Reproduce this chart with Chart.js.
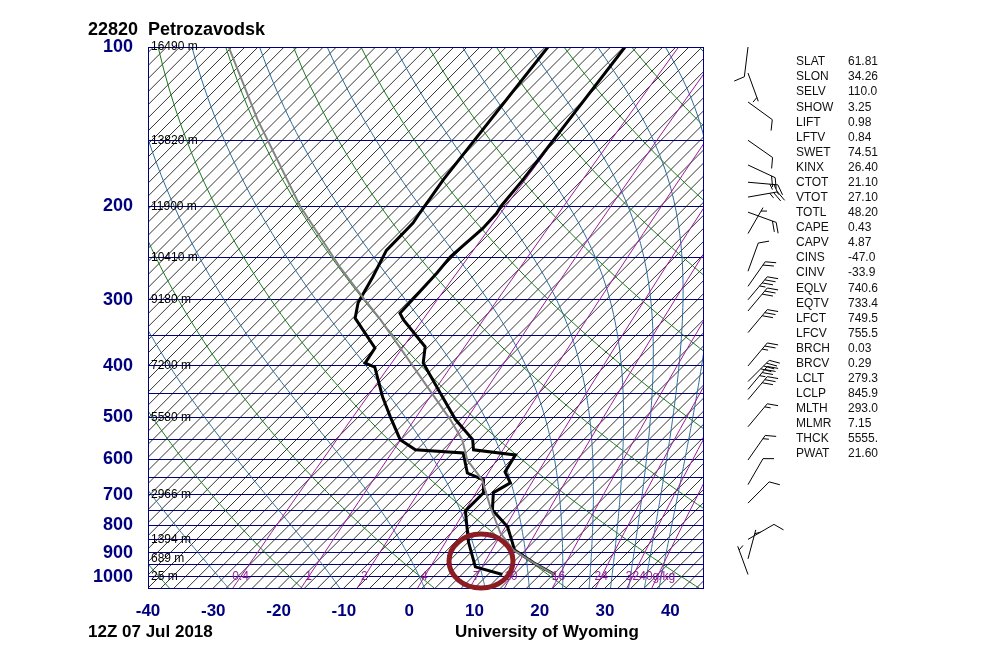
<!DOCTYPE html>
<html>
<head>
<meta charset="utf-8">
<script src="https://cdn.jsdelivr.net/npm/chart.js@4.4.0/dist/chart.umd.min.js"></script>
<style>
body { margin: 0; background: #fff; }
#c { display: block; }
</style>
</head>
<body>
<canvas id="c" width="985" height="657"></canvas>
<script>
// sounding: pressure (hPa) / temperature (C)
const presT  = [990, 941, 890, 859, 805, 748, 694, 665, 634, 589, 576, 551, 505, 450, 395, 368, 327, 318, 267, 249, 220, 206, 200, 178, 100];
const tempT  = [20.2, 15.2, 10.3, 8.7, 5.7, 0.8, -1.7, -0.6, -3.1, -4.1, -11.3, -13.0, -18.7, -25.1, -32.3, -34.5, -42.0, -43.5, -44.0, -44.4, -43.8, -44.0, -44.4, -45.1, -49.8];
const presTd = [990, 958, 859, 751, 694, 656, 637, 584, 576, 551, 499, 458, 402, 395, 370, 325, 304, 272, 242, 215, 206, 178, 100];
const dewpTd = [12.2, 6.9, 2.0, -3.2, -3.2, -5.2, -8.7, -12.4, -20.2, -24.1, -29.1, -33.3, -39.1, -41.2, -42.0, -49.6, -51.5, -53.2, -55.2, -55.3, -55.8, -57.3, -61.6];
const presPcl = [990, 941, 890, 826, 738, 656, 602, 551, 505, 327, 296, 261, 200, 137, 100];
const tempPcl = [20.1, 15.2, 10.1, 5.5, 0.0, -5.4, -10.7, -14.6, -19.5, -45.5, -51.8, -59.6, -75.1, -95.0, -110.5];

// winds: pressure, direction (deg), speed (kt)
const windP   = [100, 112, 127, 150, 167, 180, 192, 205, 225, 265, 283, 300, 315, 346, 400, 428, 443, 463, 521, 602, 670, 726, 850, 925, 990];
const windDir = [187, 160, 126, 125, 115, 95, 80, 110, 30, 20, 35, 40, 40, 40, 40, 45, 40, 40, 40, 35, 30, 45, 60, 15, 340];
const windSpd = [10, 5, 10, 10, 20, 25, 25, 20, 5, 10, 20, 35, 30, 30, 25, 40, 35, 30, 15, 15, 10, 10, 10, 5, 5];

const pTicks = [100, 150, 200, 250, 300, 350, 400, 450, 500, 550, 600, 650, 700, 750, 800, 850, 900, 950, 1000, 1050];
const tTicks = [-40, -30, -20, -10, 0, 10, 20, 30, 40];

const hgtP   = [100, 150, 200, 250, 300, 400, 500, 700, 850, 925, 1000];
const hgtLbl = ['16490 m', '13820 m', '11900 m', '10410 m', '9180 m', '7200 m', '5580 m', '2966 m', '1394 m', '689 m', '25 m'];

const mixR    = [0.4, 1, 2, 4, 7, 10, 16, 24, 32, 40];
const dryTh   = [-40, -20, 0, 20, 40, 60, 80, 100, 120, 140, 160, 180];
const moistTh = [-50, -30, -10, 10, 30, 50, 70, 90, 110, 130, 150, 170];

const idxName = ['SLAT','SLON','SELV','SHOW','LIFT','LFTV','SWET','KINX','CTOT','VTOT','TOTL','CAPE','CAPV','CINS','CINV','EQLV','EQTV','LFCT','LFCV','BRCH','BRCV','LCLT','LCLP','MLTH','MLMR','THCK','PWAT'];
const idxVal  = ['61.81','34.26','110.0','3.25','0.98','0.84','74.51','26.40','21.10','27.10','48.20','0.43','4.87','-47.0','-33.9','740.6','733.4','749.5','755.5','0.03','0.29','279.3','845.9','293.0','7.15','5555.','21.60'];

const T_MIN = -40, T_MAX = 45, P_TOP = 100, P_BOT = 1050;
const PLOT_W = 555, PLOT_H = 541;
const K = (T_MAX - T_MIN) / PLOT_W * PLOT_H / Math.log10(P_BOT / P_TOP);
const FONT = "'Liberation Sans', Arial, sans-serif";
const NAVY = '#00007f';

function sk(t, p) { return t + K * Math.log10(P_BOT / p); }
function pts(ps, ts) { return ps.map((p, i) => ({ x: sk(ts[i], p), y: p })); }

function lapse(T, p) {
  const tc = T - 273.15;
  const es = 6.112 * Math.exp(17.67 * tc / (tc + 243.5));
  const rs = 0.622 * es / (p - es);
  return (287.04 * T + 2.501e6 * rs) / (p * (1005.7 + 2.501e6 * 2.501e6 * rs * 0.622 / (287.04 * T * T)));
}

const skewGrid = {
  id: 'skewGrid',
  beforeDatasetsDraw(chart) {
    const { ctx, chartArea: a, scales: { x, y } } = chart;
    const line = (list, color, w) => {
      ctx.strokeStyle = color; ctx.lineWidth = w;
      ctx.beginPath();
      list.forEach((q, i) => {
        const px = x.getPixelForValue(sk(q[0], q[1])), py = y.getPixelForValue(q[1]);
        i ? ctx.lineTo(px, py) : ctx.moveTo(px, py);
      });
      ctx.stroke();
    };
    ctx.save();
    ctx.beginPath(); ctx.rect(a.left, a.top, a.right - a.left, a.bottom - a.top); ctx.clip();
    // isotherms
    for (let t = -140; t <= 44; t += 2) line([[t, P_BOT], [t, P_TOP]], '#000', 0.8);
    // dry adiabats
    dryTh.forEach(th => {
      const l = [];
      for (let p = P_BOT; p >= P_TOP; p -= 10) l.push([(th + 273.15) * Math.pow(p / 1000, 0.2857) - 273.15, p]);
      line(l, '#1a7a1a', 1);
    });
    // moist adiabats
    moistTh.forEach(th => {
      let p = P_TOP, T = (th + 273.15) * Math.pow(P_TOP / 1000, 0.2857);
      const l = [[T - 273.15, p]];
      while (p < P_BOT) {
        const dp = 5;
        const k1 = lapse(T, p);
        const k2 = lapse(T + k1 * dp / 2, p + dp / 2);
        T += k2 * dp; p += dp;
        l.push([T - 273.15, p]);
      }
      line(l, '#2b6a9a', 1);
    });
    // mixing ratio
    mixR.forEach(w => {
      const l = [];
      for (let p = P_BOT; p >= P_TOP; p -= 25) {
        const g = Math.log(w * p / (622 + w) / 6.112);
        l.push([243.5 * g / (17.67 - g), p]);
      }
      line(l, '#9a1a9a', 1);
    });
    ctx.restore();
  },
  afterDatasetsDraw(chart) {
    const { ctx, chartArea: a, scales: { x, y } } = chart;
    ctx.save();
    ctx.strokeStyle = NAVY; ctx.lineWidth = 1;
    ctx.strokeRect(a.left + 0.5, a.top + 0.5, a.right - a.left, a.bottom - a.top);
    // heights
    ctx.fillStyle = '#000'; ctx.font = '12px ' + FONT;
    ctx.textAlign = 'left'; ctx.textBaseline = 'middle';
    hgtP.forEach((p, i) => ctx.fillText(hgtLbl[i], a.left + 3, y.getPixelForValue(p)));
    // mixing ratio labels
    ctx.fillStyle = '#9a1a9a'; ctx.textAlign = 'center';
    mixR.forEach((w, i) => {
      const g = Math.log(w * 1000 / (622 + w) / 6.112);
      const px = x.getPixelForValue(sk(243.5 * g / (17.67 - g), 1000));
      if (i === mixR.length - 1) { ctx.textAlign = 'left'; ctx.fillText(w + 'g/kg', px - 18, y.getPixelForValue(1000)); }
      else ctx.fillText(String(w), px, y.getPixelForValue(1000));
    });
    // circled area
    ctx.strokeStyle = '#8c1c24'; ctx.lineWidth = 5;
    ctx.beginPath();
    ctx.ellipse(x.getPixelForValue(11.0), y.getPixelForValue(934), 32, 27, 0, 0, Math.PI * 2);
    ctx.stroke();
    ctx.restore();
  },
  afterDraw(chart) {
    const { ctx, scales: { y } } = chart;
    ctx.save();
    // titles
    ctx.fillStyle = '#000'; ctx.textBaseline = 'middle'; ctx.textAlign = 'left';
    ctx.font = 'bold 18px ' + FONT;
    ctx.fillText('22820  Petrozavodsk', 88, 30);
    ctx.font = 'bold 17px ' + FONT;
    ctx.fillText('12Z 07 Jul 2018', 88, 632);
    ctx.fillText('University of Wyoming', 455, 632);
    // indices
    ctx.font = '12px ' + FONT; ctx.fillStyle = '#111';
    idxName.forEach((n, i) => {
      ctx.fillText(n, 796, 62 + i * 15.08);
      ctx.fillText(idxVal[i], 848, 62 + i * 15.08);
    });
    // wind barbs, staff points to where the wind comes from
    ctx.strokeStyle = '#000'; ctx.lineWidth = 1; ctx.fillStyle = '#000';
    windP.forEach((p, i) => {
      const bx = 748, by = y.getPixelForValue(p);
      const r = windDir[i] * Math.PI / 180;
      const ux = Math.sin(r), uy = -Math.cos(r);
      const rx = -uy, ry = ux;
      const L = 30;
      const tx = bx + ux * L, ty = by + uy * L;
      ctx.beginPath(); ctx.moveTo(bx, by); ctx.lineTo(tx, ty); ctx.stroke();
      let s = Math.round(windSpd[i] / 5) * 5, d = 0;
      while (s >= 50) {
        const sx = tx - ux * d, sy = ty - uy * d;
        ctx.beginPath(); ctx.moveTo(sx, sy);
        ctx.lineTo(sx + rx * 10, sy + ry * 10);
        ctx.lineTo(sx - ux * 5, sy - uy * 5); ctx.fill();
        s -= 50; d += 7;
      }
      while (s >= 10) {
        const sx = tx - ux * d, sy = ty - uy * d;
        ctx.beginPath(); ctx.moveTo(sx, sy);
        ctx.lineTo(sx + (rx * 0.866 + ux * 0.5) * 11, sy + (ry * 0.866 + uy * 0.5) * 11); ctx.stroke();
        s -= 10; d += 4;
      }
      if (s >= 5) {
        if (d === 0) d = 4;
        const sx = tx - ux * d, sy = ty - uy * d;
        ctx.beginPath(); ctx.moveTo(sx, sy);
        ctx.lineTo(sx + (rx * 0.866 + ux * 0.5) * 6, sy + (ry * 0.866 + uy * 0.5) * 6); ctx.stroke();
      }
    });
    ctx.restore();
  }
};

Chart.defaults.font.family = FONT;

new Chart(document.getElementById('c'), {
  type: 'scatter',
  data: {
    datasets: [
      { label: 'parcel', data: pts(presPcl, tempPcl), borderColor: '#848484', borderWidth: 2 },
      { label: 'dewpoint', data: pts(presTd, dewpTd), borderColor: '#000', borderWidth: 3 },
      { label: 'temperature', data: pts(presT, tempT), borderColor: '#000', borderWidth: 3 }
    ].map(d => Object.assign(d, { showLine: true, pointRadius: 0, fill: false, tension: 0 }))
  },
  options: {
    responsive: false,
    animation: false,
    devicePixelRatio: 1,
    layout: { padding: { left: 0, top: 47, right: 282, bottom: 0 } },
    plugins: { legend: { display: false }, tooltip: { enabled: false } },
    scales: {
      x: {
        type: 'linear', min: T_MIN, max: T_MAX,
        afterBuildTicks: s => { s.ticks = tTicks.map(v => ({ value: v })); },
        afterFit: s => { s.height = 657 - 47 - PLOT_H; },
        grid: { display: false },
        border: { display: true, color: NAVY },
        ticks: { color: NAVY, padding: 5, font: { size: 17, weight: 'bold' }, autoSkip: false, maxRotation: 0 }
      },
      y: {
        type: 'logarithmic', reverse: true, min: P_TOP, max: P_BOT,
        afterBuildTicks: s => { s.ticks = pTicks.map(v => ({ value: v })); },
        afterFit: s => { s.width = 148; },
        grid: { color: NAVY, lineWidth: 1, drawTicks: false },
        border: { display: true, color: NAVY },
        ticks: {
          color: NAVY, padding: 15, autoSkip: false,
          font: { size: 18, weight: 'bold' },
          callback: v => (v % 100 === 0 && v <= 1000) ? String(v) : ''
        }
      }
    }
  },
  plugins: [skewGrid]
});
</script>
</body>
</html>
